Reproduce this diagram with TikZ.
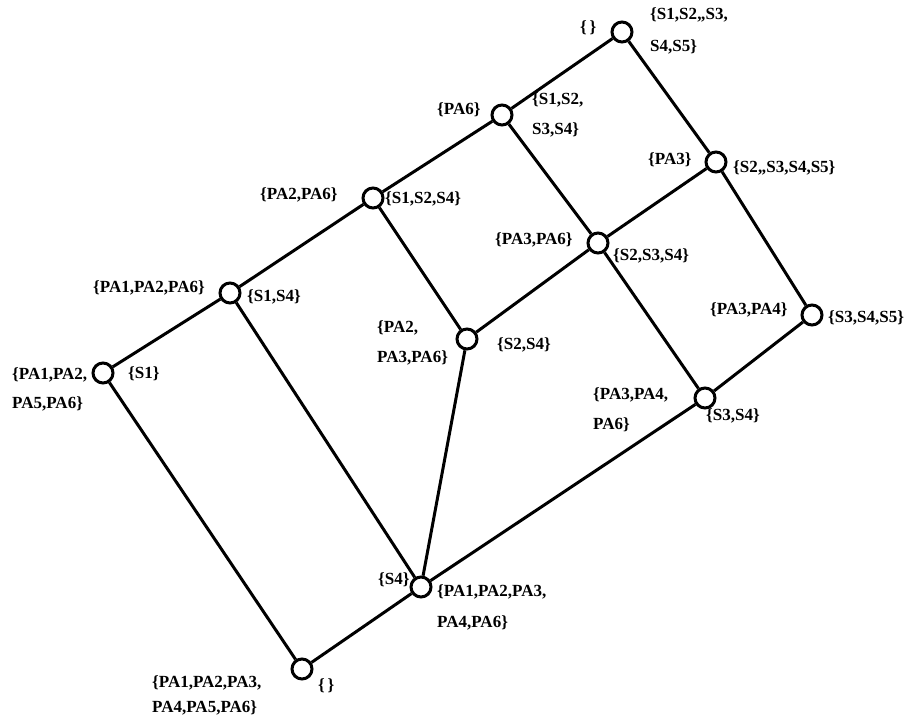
\documentclass[tikz,border=0pt]{standalone}
\usepackage{fontspec}
\setmainfont{Liberation Serif}
\begin{document}
\begin{tikzpicture}[x=1pt,y=-1pt,
  vert/.style={circle,draw,line width=3pt,fill=white,minimum size=20pt,inner sep=0pt},
  lbl/.style={anchor=west,inner sep=0pt,align=left,font=\fontsize{17}{30}\selectfont\bfseries},
  edge/.style={line width=3pt}]
\useasboundingbox (0,0) rectangle (906,719);
% lattice vertices
\node[vert] (a) at (103,373) {};
\node[vert] (b) at (230,293) {};
\node[vert] (c) at (373,198) {};
\node[vert] (d) at (502,115) {};
\node[vert] (e) at (622,32) {};
\node[vert] (f) at (716,162) {};
\node[vert] (g) at (812,315) {};
\node[vert] (h) at (705,398) {};
\node[vert] (i) at (421,587) {};
\node[vert] (j) at (302,669) {};
\node[vert] (k) at (467,339) {};
\node[vert] (l) at (598,243) {};
% order relations
\begin{scope}[on background layer/.try]
\draw[edge] (a) -- (b) -- (c) -- (d) -- (e);
\draw[edge] (e) -- (f) -- (g);
\draw[edge] (g) -- (h) -- (i) -- (j);
\draw[edge] (a) -- (j);
\draw[edge] (b) -- (i);
\draw[edge] (c) -- (k) -- (i);
\draw[edge] (d) -- (l) -- (h);
\draw[edge] (k) -- (l) -- (f);
\end{scope}
% extents and intents
\node[lbl] (e1) at (580,28) {\{\,\}};
\node[lbl,font=\fontsize{17}{32}\selectfont\bfseries] (e2) at (650,31) {\{S1,S2,,S3,\\S4,S5\}};
\node[lbl] (d1) at (437,110) {\{PA6\}};
\node[lbl] (d2) at (532,115) {\{S1,S2,\\S3,S4\}};
\node[lbl] (f1) at (648,160) {\{PA3\}};
\node[lbl] (f2) at (733,168) {\{S2,,S3,S4,S5\}};
\node[lbl] (l1) at (495,240) {\{PA3,PA6\}};
\node[lbl] (l2) at (613,256) {\{S2,S3,S4\}};
\node[lbl] (c1) at (260,195) {\{PA2,PA6\}};
\node[lbl] (c2) at (385,199) {\{S1,S2,S4\}};
\node[lbl] (b1) at (93,288) {\{PA1,PA2,PA6\}};
\node[lbl] (b2) at (247,297) {\{S1,S4\}};
\node[lbl,font=\fontsize{17}{29}\selectfont\bfseries] (a1) at (12,389) {\{PA1,PA2,\\PA5,PA6\}};
\node[lbl] (a2) at (128,374) {\{S1\}};
\node[lbl] (k1) at (377,343) {\{PA2,\\PA3,PA6\}};
\node[lbl] (k2) at (497,345) {\{S2,S4\}};
\node[lbl] (g1) at (710,310) {\{PA3,PA4\}};
\node[lbl] (g2) at (828,318) {\{S3,S4,S5\}};
\node[lbl] (h1) at (593,410) {\{PA3,PA4,\\PA6\}};
\node[lbl] (h2) at (706,416) {\{S3,S4\}};
\node[lbl] (i1) at (378,580) {\{S4\}};
\node[lbl,font=\fontsize{17}{31}\selectfont\bfseries] (i2) at (437,607) {\{PA1,PA2,PA3,\\PA4,PA6\}};
\node[lbl,font=\fontsize{17}{25}\selectfont\bfseries] (j1) at (152,695) {\{PA1,PA2,PA3,\\PA4,PA5,PA6\}};
\node[lbl] (j2) at (318,686) {\{\,\}};
\end{tikzpicture}
\end{document}
